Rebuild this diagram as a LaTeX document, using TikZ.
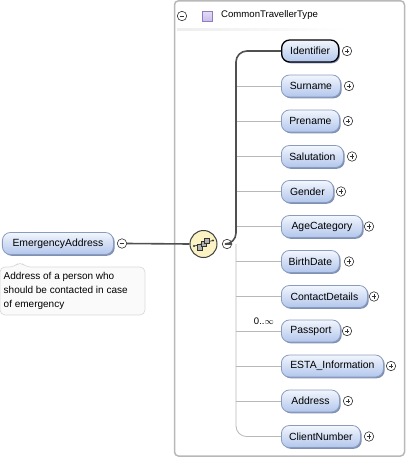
\documentclass[tikz,border=0pt]{standalone}
\usepackage{fontspec}
\setmainfont{Liberation Sans}
\usetikzlibrary{calc,shadows}
\definecolor{elemtop}{HTML}{F2F6FD}
\definecolor{elembot}{HTML}{B2C6EC}
\definecolor{elemdraw}{HTML}{8A9CBE}
\definecolor{elemshadow}{HTML}{8090B4}
\definecolor{boxdraw}{HTML}{B8B8B8}
\definecolor{thinline}{HTML}{B8B8B8}
\definecolor{thickline}{HTML}{505050}
\definecolor{seqfill}{HTML}{FBF3C4}
\definecolor{typefill}{HTML}{C9BCE8}
\definecolor{typetop}{HTML}{E4DCF6}
\definecolor{typedraw}{HTML}{8E7DC3}
\definecolor{notefill}{HTML}{FAFAFA}
\definecolor{notedraw}{HTML}{DADADA}
\tikzset{
  elem/.style={draw=elemdraw, line width=0.8pt, rounded corners=8pt,
    top color=elemtop, bottom color=elembot, minimum height=22pt,
    inner sep=0pt, anchor=west, font=\fontsize{10.4}{12}\selectfont,
    drop shadow={shadow xshift=1.3pt, shadow yshift=-1.3pt, fill=elemshadow, opacity=1}},
  reqelem/.style={elem, draw=black, line width=1.3pt},
  plusc/.style={circle, draw=black!80, fill=white, line width=0.6pt, minimum size=9.5pt, inner sep=0pt,
    path picture={\draw[line width=0.6pt] ($(path picture bounding box.center)+(-2.4pt,0)$) -- ++(4.8pt,0);
                  \draw[line width=0.6pt] ($(path picture bounding box.center)+(0,-2.4pt)$) -- ++(0,4.8pt);}},
  minusc/.style={circle, draw=black!80, fill=white, line width=0.6pt, minimum size=9.5pt, inner sep=0pt,
    path picture={\draw[line width=0.6pt] ($(path picture bounding box.center)+(-2.4pt,0)$) -- ++(4.8pt,0);}},
  thinconn/.style={draw=thinline, line width=0.8pt},
  thickconn/.style={draw=thickline, line width=1.6pt},
}
\begin{document}
\begin{tikzpicture}[x=1pt,y=-1pt]
\useasboundingbox (0,0) rectangle (407,459);
% outer type box
\draw[boxdraw, line width=1.5pt, rounded corners=4pt] (174.5,0.8) rectangle (404.5,456);
\node[minusc] (tm) at (182,16) {};
\node[draw=typedraw, top color=typetop, bottom color=typefill, minimum size=10pt, inner sep=0pt, line width=0.6pt] (tsq) at (207.5,16.5) {};
\node[anchor=west, font=\fontsize{9.6}{11}\selectfont, inner sep=0pt] (tname) at (221,15.5) {CommonTravellerType};
\shade[left color=black!7, right color=white] (177,28.5) rectangle (350,30.5);

% parent element
\node[elem, minimum width=111pt] (ea) at (2,243.5) {EmergencyAddress};
\node[minusc] (eam) at (122,243.5) {};
% annotation
\draw[notedraw, fill=notefill, line width=0.7pt, rounded corners=5pt]
  (0,267) -- (14,267) -- (20,261.5) -- (26,267) -- (145,267) -- (145,315) -- (0,315) -- cycle;
\node[anchor=north west, align=left, inner sep=0pt, font=\fontsize{10}{14}\selectfont] (note) at (3.5,272)
  {Address of a person who\\should be contacted in case\\of emergency};

% sequence compositor
\node[circle, draw=black!75, fill=seqfill, line width=1pt, minimum size=27pt, inner sep=0pt] (seq) at (203.5,244) {};
\node[minusc] (seqm) at (227,244) {};
\begin{scope}[shift={(203.5,244)}]
  \draw[black!80, line width=0.7pt] (-9,2) -- (9,-3.5);
  \fill[black!80] (-9.5,2) circle (1.1);
  \fill[black!80] (9.5,-3.5) circle (1.1);
  \draw[black!80, fill=black!30, line width=0.6pt] (-6,0.5) rectangle (-1,6);
  \draw[black!80, fill=black!30, line width=0.6pt] (-2.5,-2.7) rectangle (2.5,2.7);
  \draw[black!80, fill=black!30, line width=0.6pt] (1,-6) rectangle (6,-0.5);
\end{scope}
\draw[thickconn] (eam.east) -- (seq.west);

% children
\coordinate (vtop) at (236,62);
\coordinate (vbot) at (236,426);
\coordinate (vmid) at (236,244);
\node[reqelem, minimum width=57pt] (n1) at (281,51) {Identifier};
\node[plusc] (p1) at (347,51) {};
\foreach \i/\lab/\yy/\w/\px in {
  2/Surname/86/59/349,
  3/Prename/121/58/348,
  4/Salutation/156.5/62/352,
  5/Gender/191.5/52/341,
  6/AgeCategory/226.5/81/369,
  7/BirthDate/261.5/58/349,
  8/ContactDetails/296.5/86/374,
  9/Passport/331/59/347,
  10/ESTA\_Information/366/102/391,
  11/Address/401/58/348,
  12/ClientNumber/436.5/79/369}{
  \node[elem, minimum width=\w pt] (n\i) at (281,\yy) {\lab};
  \node[plusc] (p\i) at (\px,\yy) {};
}
\foreach \i in {2,...,11}{
  \draw[thinconn] (vtop |- n\i.west) -- (n\i.west);
}
\draw[thinconn] (vmid) -- (vbot) arc[start angle=180, end angle=270, radius=10.5pt] -- (n12.west);
\draw[thickconn, rounded corners=11pt] (seqm.east) -- (vmid) -- (vtop |- n1.west) -- (n1.west);
\node[anchor=east, inner sep=0pt, font=\fontsize{9.5}{10}\selectfont] (card) at (274,321.5) {0..$\infty$};
\end{tikzpicture}
\end{document}
